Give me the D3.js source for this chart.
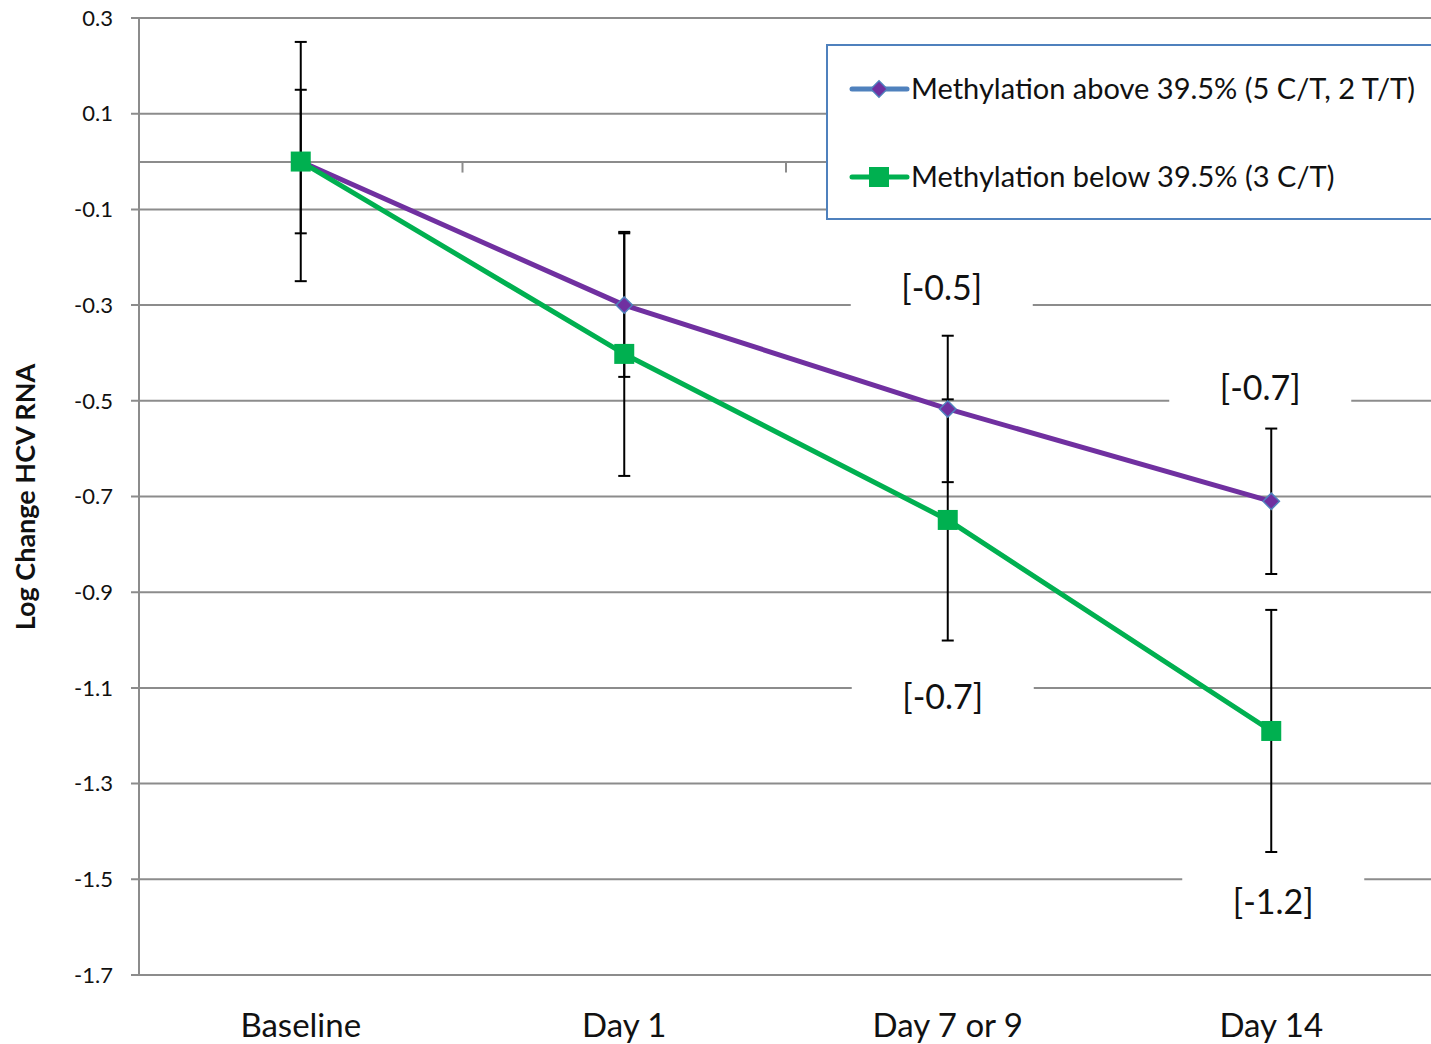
<!DOCTYPE html>
<html>
<head>
<meta charset="utf-8">
<script src="https://cdn.jsdelivr.net/npm/d3@7"></script>
<style>
  body { margin: 0; background: #fff; }
  text { font-family: Lato, "Open Sans", sans-serif; }
</style>
</head>
<body>
<div id="wrapper"></div>
<script>
const categories = ["Baseline", "Day 1", "Day 7 or 9", "Day 14"]
const aboveValues = [0, -0.3, -0.517, -0.71]
const aboveErrors = [0.15, 0.15, 0.153, 0.152]
const belowValues = [0, -0.402, -0.749, -1.19]
const belowErrors = [0.25, 0.255, 0.252, 0.253]
const yTicks = [0.3, 0.1, -0.1, -0.3, -0.5, -0.7, -0.9, -1.1, -1.3, -1.5, -1.7]
const seriesNames = ["Methylation above 39.5% (5 C/T, 2 T/T)", "Methylation below 39.5% (3 C/T)"]
const annotations = [
    { cat: "Day 7 or 9", value: -0.264, text: "[-0.5]", dx: -6 },
    { cat: "Day 14", value: -0.473, text: "[-0.7]", dx: -11 },
    { cat: "Day 7 or 9", value: -1.119, text: "[-0.7]", dx: -5 },
    { cat: "Day 14", value: -1.547, text: "[-1.2]", dx: 2 },
]

const dimensions = {
    width: 1431,
    height: 1044,
    margin: { top: 18, right: -2, bottom: 69, left: 139 },
}
dimensions.boundedWidth = dimensions.width - dimensions.margin.left - dimensions.margin.right
dimensions.boundedHeight = dimensions.height - dimensions.margin.top - dimensions.margin.bottom

const gridColor = "#8c8c8c"
const purple = "#7030a0"
const green = "#00b050"
const blue = "#4f81bd"

const svg = d3.select("#wrapper").append("svg")
    .attr("width", dimensions.width)
    .attr("height", dimensions.height)

const bounds = svg.append("g")
    .attr("transform", `translate(${dimensions.margin.left},${dimensions.margin.top})`)

const xScale = d3.scaleBand()
    .domain(categories)
    .range([0, dimensions.boundedWidth])

const yScale = d3.scaleLinear()
    .domain([-1.7, 0.3])
    .range([dimensions.boundedHeight, 0])

const xMid = d => xScale(d) + xScale.bandwidth() / 2
const fmt = d => d3.format(".1f")(d).replace("−", "-")

// gridlines
bounds.append("g").selectAll("line")
    .data(yTicks)
    .join("line")
    .attr("x1", -8)
    .attr("x2", dimensions.boundedWidth)
    .attr("y1", d => yScale(d))
    .attr("y2", d => yScale(d))
    .attr("stroke", gridColor)
    .attr("stroke-width", 2)

// y axis line
bounds.append("line")
    .attr("x1", 0).attr("x2", 0)
    .attr("y1", 0).attr("y2", dimensions.boundedHeight)
    .attr("stroke", gridColor)
    .attr("stroke-width", 2)

bounds.append("g").selectAll("text")
    .data(yTicks)
    .join("text")
    .attr("x", -26)
    .attr("y", d => yScale(d))
    .attr("dy", "0.35em")
    .attr("text-anchor", "end")
    .attr("font-size", "22px")
    .attr("fill", "#111")
    .text(fmt)

// category axis at zero
const xAxis = d3.axisBottom(xScale).tickSize(0).tickFormat("")
bounds.append("g")
    .attr("transform", `translate(0,${yScale(0)})`)
    .call(xAxis)
    .call(g => g.select(".domain").attr("stroke", gridColor).attr("stroke-width", 2))

const boundaries = categories.map(c => xScale(c)).concat([dimensions.boundedWidth])
bounds.append("g").selectAll("line")
    .data(boundaries)
    .join("line")
    .attr("x1", d => d).attr("x2", d => d)
    .attr("y1", yScale(0)).attr("y2", yScale(0) + 11)
    .attr("stroke", gridColor)
    .attr("stroke-width", 2)

bounds.append("g").selectAll("text")
    .data(categories)
    .join("text")
    .attr("x", d => xMid(d))
    .attr("y", dimensions.boundedHeight + 50)
    .attr("dy", "0.35em")
    .attr("text-anchor", "middle")
    .attr("font-size", "33px")
    .attr("fill", "#111")
    .text(d => d)

svg.append("text")
    .attr("transform", `translate(35,497) rotate(-90)`)
    .attr("text-anchor", "middle")
    .attr("font-size", "27px")
    .attr("font-weight", "bold")
    .attr("fill", "#111")
    .text("Log Change HCV RNA")

// annotation labels with white boxes
const ann = bounds.append("g").selectAll("g")
    .data(annotations)
    .join("g")
    .attr("transform", d => `translate(${xMid(d.cat) + d.dx},${yScale(d.value)})`)
ann.append("rect")
    .attr("x", -91).attr("y", -26)
    .attr("width", 182).attr("height", 50)
    .attr("fill", "#fff")
ann.append("text")
    .attr("text-anchor", "middle")
    .attr("dy", "0.35em")
    .attr("font-size", "34px")
    .attr("fill", "#111")
    .text(d => d.text)

// legend box (covers gridlines behind it)
const legend = svg.append("g").attr("transform", "translate(827,45)")
legend.append("rect")
    .attr("width", 640).attr("height", 174)
    .attr("fill", "#fff")
    .attr("stroke", blue)
    .attr("stroke-width", 2)

// series
const series = [
    { name: seriesNames[0], values: aboveValues, errors: aboveErrors, color: purple, marker: "diamond" },
    { name: seriesNames[1], values: belowValues, errors: belowErrors, color: green, marker: "square" },
]

const lineGen = d3.line()
    .x((d, i) => xMid(categories[i]))
    .y(d => yScale(d))

series.forEach(s => {
    bounds.append("path")
        .datum(s.values)
        .attr("d", lineGen)
        .attr("fill", "none")
        .attr("stroke", s.color)
        .attr("stroke-width", 5)
        .attr("stroke-linejoin", "round")
})

// error bars
series.forEach(s => {
    const eb = bounds.append("g").selectAll("g")
        .data(s.values.map((v, i) => ({ cat: categories[i], v: v, e: s.errors[i] })))
        .join("g")
    eb.append("line")
        .attr("x1", d => xMid(d.cat)).attr("x2", d => xMid(d.cat))
        .attr("y1", d => yScale(d.v + d.e)).attr("y2", d => yScale(d.v - d.e))
        .attr("stroke", "#000").attr("stroke-width", 2)
    ;[1, -1].forEach(sign => {
        eb.append("line")
            .attr("x1", d => xMid(d.cat) - 6).attr("x2", d => xMid(d.cat) + 6)
            .attr("y1", d => yScale(d.v + sign * d.e)).attr("y2", d => yScale(d.v + sign * d.e))
            .attr("stroke", "#000").attr("stroke-width", 2)
    })
})

const diamond = d3.symbol().type(d3.symbolDiamond2).size(170)
const square = d3.symbol().type(d3.symbolSquare).size(400)

series.forEach(s => {
    bounds.append("g").selectAll("path")
        .data(s.values)
        .join("path")
        .attr("transform", (d, i) => `translate(${xMid(categories[i])},${yScale(d)})`)
        .attr("d", s.marker === "diamond" ? diamond : square)
        .attr("fill", s.color)
        .attr("stroke", s.marker === "diamond" ? blue : "none")
        .attr("stroke-width", 1.5)
})

// legend entries
const legendRows = legend.selectAll("g")
    .data(series)
    .join("g")
    .attr("transform", (d, i) => `translate(0,${44 + i * 88})`)
legendRows.append("line")
    .attr("x1", 25).attr("x2", 80)
    .attr("stroke", (d, i) => i === 0 ? blue : green)
    .attr("stroke-width", 5)
    .attr("stroke-linecap", "round")
legendRows.append("path")
    .attr("transform", "translate(52,0)")
    .attr("d", d => d.marker === "diamond" ? diamond() : square())
    .attr("fill", d => d.color)
    .attr("stroke", d => d.marker === "diamond" ? blue : "none")
    .attr("stroke-width", 1.5)
legendRows.append("text")
    .attr("x", 84)
    .attr("dy", "0.35em")
    .attr("font-size", "29px")
    .attr("fill", "#111")
    .text(d => d.name)
</script>
</body>
</html>
